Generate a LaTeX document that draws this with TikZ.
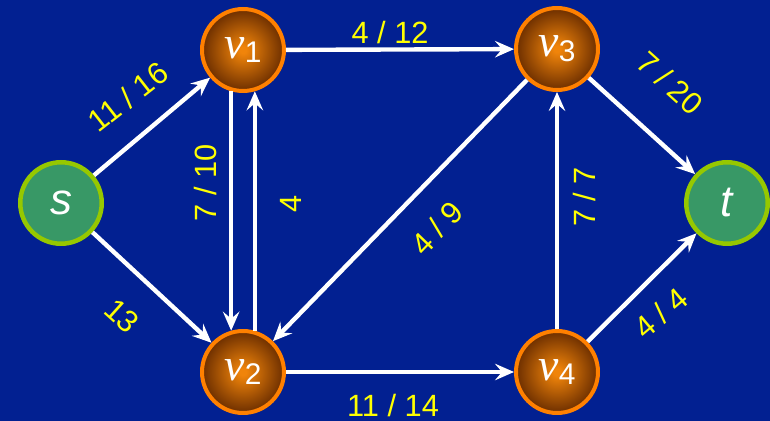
\documentclass[tikz,border=0pt]{standalone}
\usepackage{fontspec}
\setmainfont{Liberation Sans}
\newfontfamily\vserif{Liberation Serif}
\usetikzlibrary{arrows.meta}
\definecolor{bgblue}{RGB}{2,32,145}
\definecolor{termgreen}{RGB}{56,152,102}
\definecolor{termrim}{RGB}{150,200,0}
\definecolor{vcore}{RGB}{240,132,10}
\definecolor{vedge}{RGB}{108,46,0}
\definecolor{vrim}{RGB}{255,128,0}
\definecolor{caplabel}{RGB}{255,255,0}
\pgfdeclareradialshading{vball}{\pgfpoint{0bp}{0bp}}{%
  color(0bp)=(vcore); color(2bp)=(vcore); color(25bp)=(vedge); color(50bp)=(vedge)}
\newcommand{\vname}[1]{{\vserif\itshape\fontsize{26}{26}\selectfont v}\raisebox{-0.28em}{\fontsize{17}{17}\selectfont #1}}

\begin{document}
\begin{tikzpicture}[x=0.02cm,y=-0.02cm]
  \tikzset{
    endnode/.style={circle,fill=termgreen,draw=termrim,line width=0.09cm,minimum size=1.63cm,
      inner sep=0pt,text=white,font=\fontsize{25}{25}\selectfont\itshape},
    vnode/.style={circle,shading=vball,draw=vrim,line width=0.08cm,minimum size=1.64cm,
      inner sep=0pt,text=white},
    flow/.style={draw=white,line width=2.5pt,-{Stealth[length=3.8mm,width=3.3mm,inset=1.4mm]}},
    caplab/.style={text=caplabel,font=\fontsize{17.5}{20}\selectfont,inner sep=0pt},
  }
  \fill[bgblue] (0,0) rectangle (770,421);

  \node[endnode] (s) at (61,203) {s};
  \node[endnode] (t) at (727,203) {t};
  \node[vnode] (v1) at (243,50) {\vname{1}};
  \node[vnode] (v2) at (243,372) {\vname{2}};
  \node[vnode] (v3) at (557,49) {\vname{3}};
  \node[vnode] (v4) at (557,372) {\vname{4}};

  % edges
  \draw[flow] (s) -- (v1);
  \draw[flow] (s) -- (v2);
  \draw[flow] (v1) -- (v3);
  \draw[flow] (v1.-106) -- (v2.106);
  \draw[flow] (v2.74) -- (v1.-74);
  \draw[flow] (v3) -- (v2);
  \draw[flow] (v2) -- (v4);
  \draw[flow] (v4) -- (v3);
  \draw[flow] (v3) -- (t);
  \draw[flow] (v4) -- (t);

  % capacities
  \node[caplab,rotate=38] (c1) at (128,97) {11 / 16};
  \node[caplab,rotate=-42] (c2) at (122,316) {13};
  \node[caplab] (c3) at (390,33) {4 / 12};
  \node[caplab,rotate=90] (c4) at (206,183) {7 / 10};
  \node[caplab,rotate=90] (c5) at (291,204) {4};
  \node[caplab,rotate=46] (c6) at (437,228) {4 / 9};
  \node[caplab] (c7) at (393,406) {11 / 14};
  \node[caplab,rotate=90] (c8) at (585,197) {7 / 7};
  \node[caplab,rotate=-42] (c9) at (670,83) {7 / 20};
  \node[caplab,rotate=40] (c10) at (661,313) {4 / 4};
\end{tikzpicture}
\end{document}
